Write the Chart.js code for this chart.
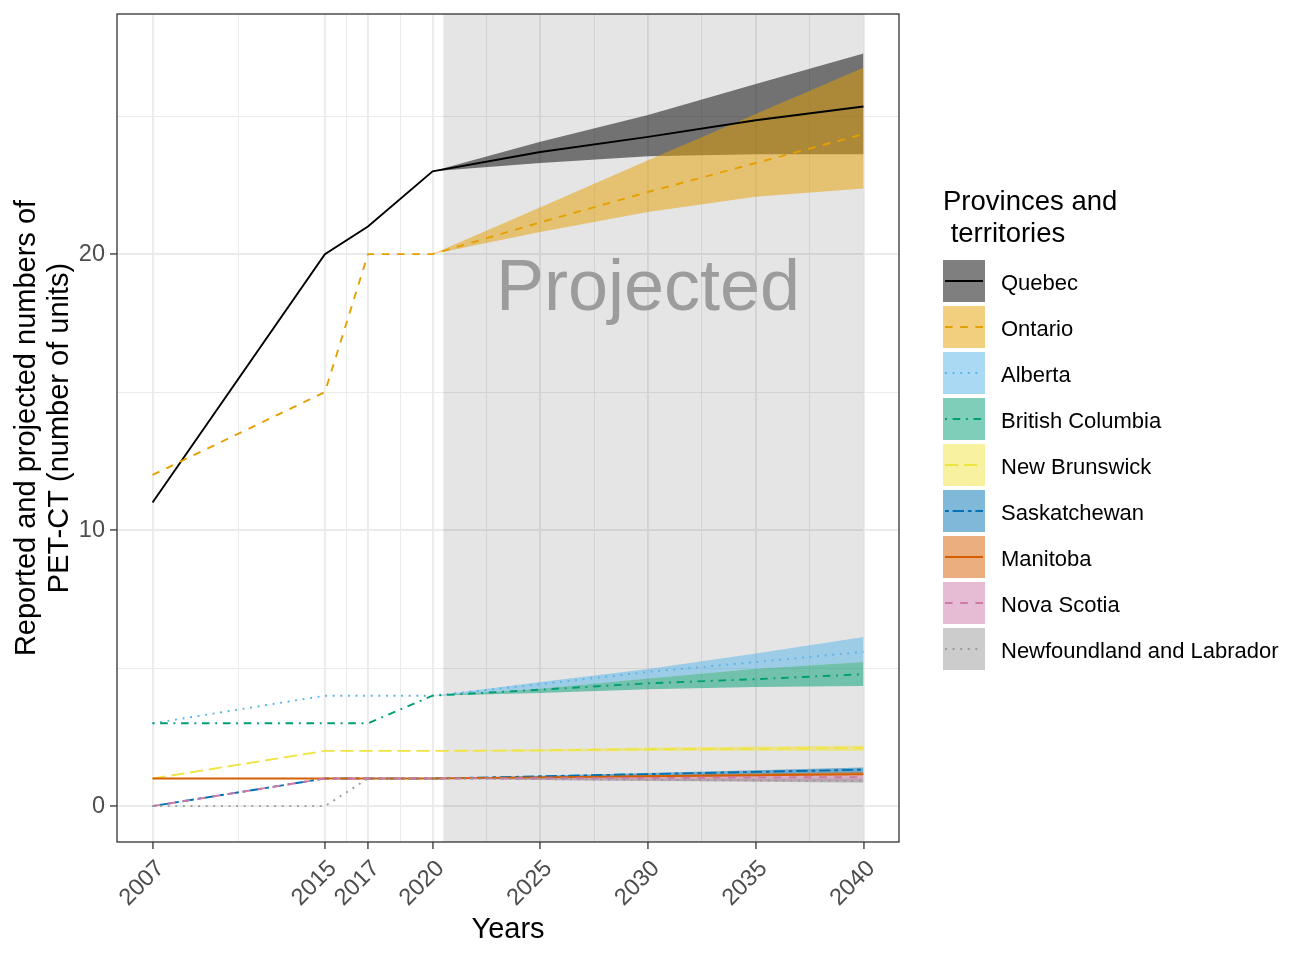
<!DOCTYPE html>
<html><head><meta charset="utf-8">
<script src="https://cdn.jsdelivr.net/npm/chart.js@4.4.1/dist/chart.umd.min.js"></script>
<style>html,body{margin:0;padding:0;background:#fff}#wrap{width:1304px;height:960px;position:relative}</style>
</head><body><div id="wrap"><canvas id="c"></canvas></div>
<script>
// ---------- DATA ----------
const provinces = ["Quebec","Ontario","Alberta","British Columbia","New Brunswick","Saskatchewan","Manitoba","Nova Scotia","Newfoundland and Labrador"];
const years = [2007, 2015, 2017, 2020, 2025, 2030, 2035, 2040];
const projYears = [2020, 2025, 2030, 2035, 2040];
const xMajorTicks = [2007, 2015, 2017, 2020, 2025, 2030, 2035, 2040];
const xMinorTicks = [2011, 2016, 2018.5, 2022.5, 2027.5, 2032.5, 2037.5];
const yMajorTicks = [0, 10, 20];
const yMinorTicks = [5, 15, 25];
const projectionStart = 2020.5;
const projectionEnd = 2040;
const projectionLabel = "Projected";
const legendTitle = ["Provinces and", " territories"];
const xTitle = "Years";
const yTitle = ["Reported and projected numbers of", "PET-CT (number of units)"];

const quebec = [11, 20, 21, 23, 23.7, 24.25, 24.85, 25.35];
const quebecLow = [23, 23.3, 23.55, 23.62, 23.62];
const quebecHigh = [23, 24.07, 25.04, 26.16, 27.27];
const ontario = [12, 15, 20, 20, 21.15, 22.25, 23.3, 24.35];
const ontarioLow = [20, 20.8, 21.53, 22.08, 22.38];
const ontarioHigh = [20, 21.7, 23.4, 25.08, 26.75];
const alberta = [3, 4, 4, 4, 4.42, 4.86, 5.22, 5.59];
const albertaLow = [4, 4.25, 4.62, 4.98, 5.22];
const albertaHigh = [4, 4.5, 4.97, 5.53, 6.13];
const britishColumbia = [3, 3, 3, 4, 4.22, 4.45, 4.6, 4.78];
const britishColumbiaLow = [4, 4.1, 4.23, 4.32, 4.35];
const britishColumbiaHigh = [4, 4.25, 4.62, 4.98, 5.22];
const newBrunswick = [1, 2, 2, 2, 2.02, 2.06, 2.08, 2.1];
const newBrunswickLow = [2, 1.98, 2.0, 2.0, 2.0];
const newBrunswickHigh = [2, 2.06, 2.12, 2.16, 2.2];
const saskatchewan = [0, 1, 1, 1, 1.08, 1.16, 1.24, 1.32];
const saskatchewanLow = [1, 1.04, 1.1, 1.15, 1.2];
const saskatchewanHigh = [1, 1.1, 1.2, 1.3, 1.4];
const manitoba = [1, 1, 1, 1, 1.04, 1.08, 1.12, 1.16];
const manitobaLow = [1, 1.02, 1.05, 1.08, 1.1];
const manitobaHigh = [1, 1.06, 1.12, 1.18, 1.24];
const novaScotia = [0, 1, 1, 1, 1.01, 1.02, 1.04, 1.05];
const novaScotiaLow = [1, 0.95, 0.92, 0.9, 0.88];
const novaScotiaHigh = [1, 1.04, 1.07, 1.1, 1.12];
const newfoundland = [0, 0, 1, 1, 0.98, 0.95, 0.93, 0.91];
const newfoundlandLow = [1, 0.95, 0.91, 0.88, 0.85];
const newfoundlandHigh = [1, 1.0, 1.0, 1.0, 1.0];

const mids = [quebec, ontario, alberta, britishColumbia, newBrunswick, saskatchewan, manitoba, novaScotia, newfoundland];
const lows = [quebecLow, ontarioLow, albertaLow, britishColumbiaLow, newBrunswickLow, saskatchewanLow, manitobaLow, novaScotiaLow, newfoundlandLow];
const highs = [quebecHigh, ontarioHigh, albertaHigh, britishColumbiaHigh, newBrunswickHigh, saskatchewanHigh, manitobaHigh, novaScotiaHigh, newfoundlandHigh];

// ---------- STYLE ----------
const colors = ["#000000","#E69F00","#56B4E9","#009E73","#F0E442","#0072B2","#D55E00","#CC79A7","#999999"];
const U = 1.9;
const dashes = [[], [4*U,4*U], [1*U,3*U], [1*U,3*U,4*U,3*U], [7*U,3*U], [2*U,2*U,6*U,2*U], [], [4*U,4*U], [1*U,3*U]];
const FONT = "'Liberation Sans', Arial, sans-serif";
function rgba(hex, a){const n=parseInt(hex.slice(1),16);return `rgba(${n>>16&255},${n>>8&255},${n&255},${a})`;}

Chart.defaults.font.family = FONT;

const datasets = [];
provinces.forEach((p, i) => {
  const lowIndex = datasets.length;
  datasets.push({
    label: p + " lower", data: projYears.map((x, j) => ({x, y: lows[i][j]})),
    borderWidth: 0, borderColor: "rgba(0,0,0,0)", pointRadius: 0, fill: false, order: 200 - i, tension: 0
  });
  datasets.push({
    label: p + " upper", data: projYears.map((x, j) => ({x, y: highs[i][j]})),
    borderWidth: 0, borderColor: "rgba(0,0,0,0)", pointRadius: 0, fill: {target: lowIndex},
    backgroundColor: rgba(colors[i], 0.5), order: 200 - i, tension: 0
  });
});
provinces.forEach((p, i) => {
  datasets.push({
    label: p, data: years.map((x, j) => ({x, y: mids[i][j]})),
    borderColor: colors[i], borderWidth: U, borderDash: dashes[i], borderCapStyle: "butt",
    pointRadius: 0, fill: false, order: 100 - i, tension: 0
  });
});

const shadePlugin = {
  id: "shade",
  beforeDatasetsDraw(chart) {
    const {ctx, chartArea: a, scales: {x}} = chart;
    const x0 = x.getPixelForValue(projectionStart), x1 = x.getPixelForValue(projectionEnd);
    ctx.save();
    ctx.fillStyle = "rgba(0,0,0,0.1)";
    ctx.fillRect(x0, a.top, x1 - x0, a.bottom - a.top);
    ctx.fillStyle = "#9c9c9c";
    ctx.font = "72px " + FONT;
    ctx.textAlign = "center";
    ctx.textBaseline = "alphabetic";
    ctx.fillText(projectionLabel, x.getPixelForValue(2030), 310);
    ctx.restore();
  },
  afterDraw(chart) {
    const {ctx, chartArea: a} = chart;
    ctx.save();
    ctx.strokeStyle = "#333333";
    ctx.lineWidth = 1.3;
    ctx.strokeRect(a.left, a.top, a.right - a.left, a.bottom - a.top);
    // legend
    ctx.fillStyle = "#000";
    ctx.font = "27.5px " + FONT;
    ctx.textAlign = "left";
    ctx.textBaseline = "alphabetic";
    ctx.fillText(legendTitle[0], 943, 210);
    ctx.fillText(legendTitle[1], 943, 242);
    provinces.forEach((p, i) => {
      const top = 260 + 46 * i;
      ctx.fillStyle = rgba(colors[i], 0.5);
      ctx.fillRect(943, top, 42, 42);
      ctx.beginPath();
      ctx.setLineDash(dashes[i]);
      ctx.strokeStyle = colors[i];
      ctx.lineWidth = U;
      ctx.moveTo(945, top + 21);
      ctx.lineTo(983, top + 21);
      ctx.stroke();
      ctx.setLineDash([]);
      ctx.fillStyle = "#000";
      ctx.font = "22px " + FONT;
      ctx.textBaseline = "middle";
      ctx.fillText(p, 1001, top + 24);
    });
    ctx.restore();
  }
};

new Chart(document.getElementById("c"), {
  type: "line",
  data: {datasets},
  options: {
    responsive: true, maintainAspectRatio: false, animation: false,
    layout: {padding: {left: 0, right: 405, top: 14, bottom: 0}},
    plugins: {legend: {display: false}, tooltip: {enabled: false}, filler: {drawTime: "beforeDatasetDraw"}},
    scales: {
      x: {
        type: "linear", min: 2005.35, max: 2041.65,
        afterBuildTicks(s) { s.ticks = [...xMajorTicks, ...xMinorTicks].sort((a, b) => a - b).map(v => ({value: v})); },
        afterFit(s) { s.height = 118; s.paddingLeft = 0; s.paddingRight = 0; },
        ticks: {autoSkip: false, minRotation: 45, maxRotation: 45, padding: 6, labelOffset: 8, color: "#4D4D4D", font: {size: 23.5},
          callback: v => xMajorTicks.includes(v) ? String(v) : ""},
        grid: {color: "#EBEBEB", lineWidth: c => xMajorTicks.includes(c.tick.value) ? 1.9 : 1,
          tickColor: c => xMajorTicks.includes(c.tick.value) ? "#333333" : "rgba(0,0,0,0)", tickLength: 7, tickWidth: 1.3},
        border: {display: false},
        title: {display: true, text: xTitle, color: "#000", font: {size: 29, lineHeight: 1.14}, padding: {top: 0, bottom: 13}}
      },
      y: {
        type: "linear", min: -1.3, max: 28.7,
        afterBuildTicks(s) { s.ticks = [...yMajorTicks, ...yMinorTicks].sort((a, b) => a - b).map(v => ({value: v})); },
        afterFit(s) { s.width = 117; s.paddingTop = 0; s.paddingBottom = 0; },
        ticks: {autoSkip: false, padding: 5, color: "#4D4D4D", font: {size: 23.5},
          callback: v => yMajorTicks.includes(v) ? String(v) : ""},
        grid: {color: "#EBEBEB", lineWidth: c => yMajorTicks.includes(c.tick.value) ? 1.9 : 1,
          tickColor: c => yMajorTicks.includes(c.tick.value) ? "#333333" : "rgba(0,0,0,0)", tickLength: 7, tickWidth: 1.3},
        border: {display: false},
        title: {display: true, text: yTitle, color: "#000", font: {size: 29, lineHeight: 1.14}, padding: {top: 10.5, bottom: 0}}
      }
    }
  },
  plugins: [shadePlugin]
});
</script></body></html>
